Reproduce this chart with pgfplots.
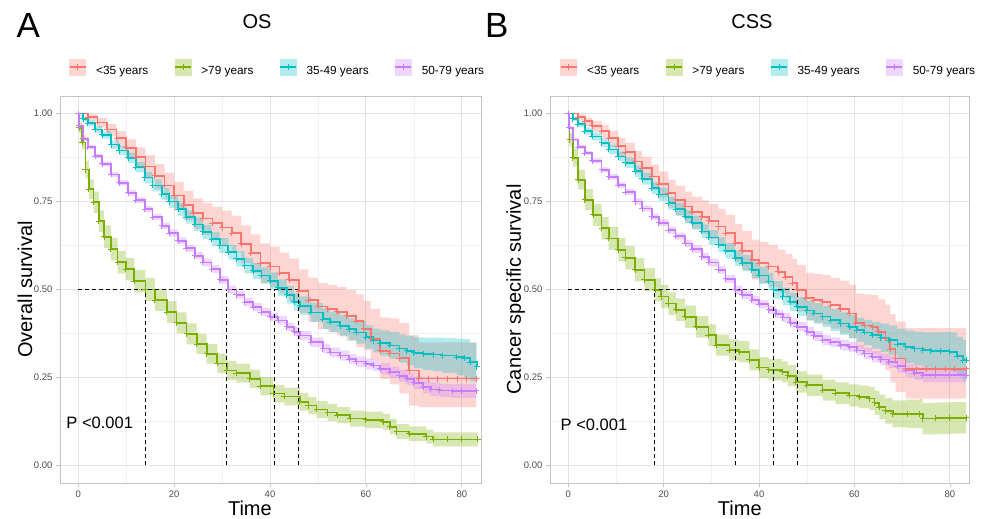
\documentclass[border=0pt]{standalone}
\usepackage{fontspec}
\setmainfont{Liberation Sans}
\usepackage{pgfplots}
\usepackage{pgfplotstable}
\pgfplotsset{compat=1.18}
\usepgfplotslibrary{fillbetween}

\definecolor{cRed}{HTML}{F8766D}
\definecolor{cGreen}{HTML}{7CAE00}
\definecolor{cCyan}{HTML}{00BFC4}
\definecolor{cPurple}{HTML}{C77CFF}
\definecolor{grid1}{HTML}{E3E3E3}
\definecolor{grid2}{HTML}{F0F0F0}
\definecolor{frame}{HTML}{C4C4C4}
\definecolor{tlab}{HTML}{4D4D4D}

% ---------- OS ----------
\pgfplotstableread{
t s u l
0 1.000 0.000 0.000
2 0.990 0.008 0.010
4 0.975 0.012 0.015
6 0.955 0.016 0.020
8 0.930 0.020 0.025
10 0.903 0.024 0.028
12 0.876 0.028 0.031
14 0.850 0.032 0.034
16 0.823 0.034 0.037
18 0.796 0.036 0.039
20 0.767 0.038 0.041
22 0.740 0.040 0.043
24 0.717 0.042 0.045
26 0.702 0.044 0.047
28 0.689 0.046 0.049
30 0.676 0.048 0.051
32 0.660 0.050 0.053
34 0.630 0.052 0.055
36 0.603 0.054 0.056
38 0.575 0.056 0.057
40 0.565 0.057 0.058
42 0.547 0.058 0.059
44 0.528 0.060 0.060
46 0.495 0.062 0.062
48 0.470 0.064 0.063
50 0.452 0.066 0.064
52 0.445 0.068 0.066
54 0.437 0.070 0.068
56 0.425 0.073 0.071
58 0.410 0.076 0.074
59.5 0.388 0.080 0.060
61 0.360 0.085 0.060
63 0.326 0.095 0.080
65 0.318 0.100 0.088
67 0.305 0.100 0.100
69 0.270 0.100 0.100
71 0.247 0.103 0.081
73 0.247 0.103 0.081
75 0.247 0.103 0.081
77 0.247 0.103 0.081
79 0.247 0.103 0.081
81 0.247 0.103 0.081
83 0.247 0.103 0.081
}\osRed

\pgfplotstableread{
t s w
0 1.000 0.000
0.2 0.960 0.015
0.8 0.918 0.020
1.5 0.841 0.025
2.2 0.785 0.028
3.2 0.748 0.030
4.3 0.694 0.031
5.4 0.650 0.032
6.8 0.615 0.032
8.2 0.578 0.032
9.9 0.558 0.032
11.7 0.524 0.032
14 0.500 0.032
16 0.470 0.031
18.5 0.436 0.031
20.5 0.405 0.030
22.6 0.374 0.030
24.7 0.345 0.029
26.8 0.317 0.028
29 0.290 0.028
31 0.270 0.027
33 0.262 0.027
35.8 0.246 0.026
38 0.225 0.026
40.7 0.204 0.025
43 0.196 0.025
46.2 0.181 0.025
48 0.170 0.024
49.7 0.159 0.024
52 0.150 0.024
54 0.143 0.023
56.7 0.133 0.023
60 0.130 0.023
63.6 0.124 0.022
65 0.110 0.022
66.4 0.096 0.021
69 0.090 0.021
72.6 0.082 0.020
74 0.074 0.020
77 0.074 0.020
80 0.074 0.020
83.3 0.075 0.020
}\osGreen

\pgfplotstableread{
t s w
0 1.000 0.000
1 0.985 0.006
2 0.973 0.008
3.5 0.955 0.010
5 0.940 0.011
6.9 0.912 0.012
8.5 0.895 0.013
10.4 0.874 0.014
12 0.848 0.015
13.9 0.818 0.016
15.5 0.796 0.017
17.4 0.771 0.017
19 0.750 0.018
20.8 0.728 0.018
22.5 0.706 0.019
24.3 0.685 0.019
26 0.664 0.020
27.8 0.643 0.020
29.5 0.625 0.021
31.3 0.606 0.021
33 0.587 0.022
34.7 0.568 0.022
36.5 0.553 0.023
38.2 0.540 0.023
40 0.525 0.024
41.7 0.505 0.024
43.5 0.485 0.025
45 0.465 0.025
46.2 0.454 0.026
48.5 0.435 0.027
51 0.416 0.028
52.5 0.407 0.029
54.6 0.397 0.030
56.5 0.387 0.031
58 0.378 0.032
60 0.365 0.033
61.5 0.355 0.034
63 0.348 0.036
65 0.341 0.038
67 0.332 0.040
68.5 0.326 0.042
70 0.320 0.044
71.9 0.317 0.046
74 0.315 0.048
76 0.312 0.050
78.9 0.308 0.052
80.5 0.305 0.054
81.7 0.294 0.055
83.1 0.280 0.055
}\osCyan

\pgfplotstableread{
t s w
0 1.000 0.000
0.2 0.965 0.004
1 0.928 0.005
2 0.905 0.006
3.5 0.879 0.006
5 0.857 0.007
6.9 0.827 0.007
8.5 0.803 0.008
10.4 0.775 0.008
12 0.754 0.008
13.9 0.728 0.009
15.5 0.706 0.009
17.4 0.681 0.009
19 0.660 0.010
20.8 0.638 0.010
22.5 0.617 0.010
24.3 0.596 0.010
26 0.577 0.011
27.8 0.558 0.011
29.5 0.528 0.011
31.3 0.500 0.011
33 0.485 0.011
34.7 0.464 0.012
36.5 0.450 0.012
38.2 0.436 0.012
40 0.422 0.012
41.7 0.412 0.012
43.5 0.394 0.012
45 0.380 0.013
46.2 0.369 0.013
48.5 0.350 0.013
51 0.332 0.013
52.5 0.321 0.014
54.6 0.312 0.014
56.5 0.302 0.014
58 0.295 0.015
60 0.289 0.015
61.5 0.284 0.015
63 0.275 0.016
65 0.265 0.016
67 0.255 0.017
68.5 0.246 0.017
70 0.235 0.018
71.9 0.223 0.018
73.5 0.216 0.019
75.4 0.213 0.019
78 0.212 0.020
80 0.212 0.020
83 0.212 0.020
}\osPurple

% ---------- CSS ----------
\pgfplotstableread{
t s u l
0 1.000 0.000 0.000
2 0.990 0.008 0.010
3.5 0.978 0.011 0.014
5 0.965 0.014 0.017
7 0.950 0.018 0.021
8.5 0.930 0.021 0.024
10.5 0.907 0.024 0.027
12 0.890 0.027 0.030
14 0.864 0.030 0.033
15.5 0.845 0.032 0.035
17.5 0.821 0.034 0.037
19 0.800 0.036 0.039
21 0.774 0.038 0.041
22.5 0.755 0.040 0.043
24.5 0.736 0.042 0.045
26 0.720 0.044 0.047
28 0.707 0.046 0.049
29.5 0.695 0.048 0.051
31.5 0.679 0.050 0.052
33 0.660 0.052 0.053
35 0.632 0.054 0.054
36.5 0.610 0.056 0.055
38.5 0.584 0.058 0.056
40 0.575 0.060 0.057
42 0.565 0.062 0.058
44 0.550 0.064 0.059
45.5 0.535 0.066 0.060
47 0.518 0.068 0.061
48 0.499 0.070 0.062
49.8 0.475 0.072 0.063
51.5 0.470 0.074 0.064
53.3 0.465 0.076 0.065
55 0.455 0.078 0.066
57 0.445 0.080 0.068
58.9 0.432 0.082 0.070
60.3 0.404 0.085 0.072
62 0.398 0.088 0.075
63.7 0.394 0.090 0.080
65 0.380 0.092 0.085
66.5 0.361 0.095 0.090
67.5 0.330 0.100 0.095
68.6 0.304 0.105 0.095
70.7 0.275 0.115 0.085
73 0.275 0.115 0.085
75 0.275 0.115 0.085
77 0.275 0.115 0.085
79 0.275 0.115 0.085
81 0.275 0.115 0.085
83.4 0.275 0.115 0.085
}\cssRed

\pgfplotstableread{
t s w
0 1.000 0.000
0.3 0.926 0.020
1 0.874 0.025
2.1 0.812 0.028
3.5 0.755 0.030
5.2 0.712 0.031
7 0.674 0.032
8.5 0.645 0.032
10.5 0.613 0.033
12 0.590 0.033
14 0.556 0.033
16 0.528 0.033
18.2 0.499 0.033
19.5 0.480 0.033
21 0.460 0.032
22.6 0.442 0.032
24.5 0.422 0.032
26.8 0.394 0.031
29.4 0.370 0.031
31 0.342 0.030
33.8 0.328 0.030
35.8 0.323 0.030
38 0.300 0.030
40 0.278 0.030
42 0.272 0.030
44.9 0.266 0.030
46 0.255 0.030
47.7 0.237 0.030
50 0.228 0.030
53.3 0.214 0.030
56 0.205 0.031
58.9 0.199 0.031
61 0.195 0.032
63.1 0.190 0.033
64.2 0.178 0.034
65.2 0.166 0.035
66.5 0.155 0.036
68 0.147 0.038
71 0.147 0.040
73.6 0.147 0.042
74.3 0.133 0.045
77 0.134 0.045
80 0.135 0.045
83.4 0.136 0.045
}\cssGreen

\pgfplotstableread{
t s w
0 1.000 0.000
1 0.985 0.006
2 0.970 0.008
3.5 0.950 0.010
5 0.935 0.011
7 0.917 0.012
8.5 0.898 0.013
10.5 0.878 0.014
12 0.860 0.015
14 0.836 0.016
15.5 0.815 0.017
17.5 0.788 0.017
19 0.770 0.018
21 0.745 0.018
22.5 0.728 0.019
24.5 0.707 0.019
26 0.690 0.020
28 0.665 0.020
29.5 0.648 0.021
31.5 0.627 0.021
33 0.610 0.022
35 0.589 0.022
36.5 0.575 0.023
38.5 0.556 0.023
40 0.540 0.024
42 0.523 0.024
43 0.499 0.025
45 0.480 0.025
46.5 0.465 0.026
48 0.451 0.027
50 0.440 0.028
51.5 0.432 0.029
53.3 0.423 0.030
55 0.413 0.031
57 0.403 0.032
58.9 0.394 0.033
60.5 0.385 0.034
62 0.378 0.036
63.7 0.370 0.038
65.5 0.363 0.040
67.2 0.356 0.042
69 0.345 0.044
70.7 0.337 0.046
72.5 0.332 0.048
74.3 0.328 0.050
76 0.326 0.052
78 0.325 0.054
79.9 0.323 0.055
81.5 0.310 0.056
82.7 0.299 0.057
83.4 0.299 0.057
}\cssCyan

\pgfplotstableread{
t s w
0 1.000 0.000
0.2 0.960 0.004
1 0.926 0.005
2 0.905 0.006
3.5 0.888 0.006
5 0.866 0.007
7 0.840 0.007
8.5 0.820 0.008
10.5 0.797 0.008
12 0.777 0.008
14 0.750 0.009
15.5 0.730 0.009
17.5 0.707 0.009
19 0.690 0.010
21 0.669 0.010
22.5 0.652 0.010
24.5 0.631 0.010
26 0.615 0.011
28 0.593 0.011
29.5 0.577 0.011
31.5 0.556 0.011
33 0.530 0.011
35 0.499 0.012
36.5 0.485 0.012
38.5 0.470 0.012
40 0.458 0.012
42 0.442 0.012
43.5 0.431 0.012
45 0.420 0.013
46.5 0.405 0.013
48 0.394 0.013
50 0.380 0.013
51.5 0.368 0.014
53.3 0.356 0.014
55 0.350 0.014
57 0.342 0.015
58.9 0.337 0.015
60.5 0.327 0.015
62 0.318 0.016
63.7 0.309 0.016
65.5 0.301 0.017
67.2 0.294 0.017
69 0.282 0.018
70.7 0.270 0.018
72.5 0.262 0.019
74.3 0.256 0.019
77 0.256 0.020
80 0.256 0.020
83.4 0.256 0.020
}\cssPurple

\pgfplotsset{
  kmleg/.style={legend image code/.code={
    \fill[fill=#1!30, draw=none] (0pt,-4.3pt) rectangle (17pt,12.7pt);
    \draw[draw=#1, line width=1.7pt] (0.5pt,4.2pt) -- (16.5pt,4.2pt);
    \draw[draw=#1, line width=0.9pt] (8.5pt,1.2pt) -- (8.5pt,7.2pt);
    \path (24pt,4.2pt);
  }},
  km/.style={const plot, color=#1, line width=1.7pt, mark=+, mark size=3pt,
    mark options={line width=0.9pt}, kmleg=#1},
  edge/.style={const plot, draw=none, forget plot},
  band/.style={fill=#1, fill opacity=0.3, draw=none, forget plot},
  med/.style={black, line width=0.9pt, dash pattern=on 4pt off 3pt, forget plot},
  surv/.style={
    scale only axis, height=387pt,
    xmin=-3.8, xmax=84, ymin=-0.05, ymax=1.05,
    xtick={0,20,40,60,80}, minor xtick={10,30,50,70},
    ytick={0,0.25,0.5,0.75,1}, minor ytick={0.125,0.375,0.625,0.875},
    grid=both,
    major grid style={grid1, line width=0.9pt},
    minor grid style={grid2, line width=0.5pt},
    axis line style={frame, line width=0.9pt},
    tick align=outside, xtick pos=left, ytick pos=left,
    major tick length=4pt, minor tick length=0pt,
    tick style={frame, line width=0.8pt},
    /pgf/number format/assume math mode=true,
    ticklabel style={font=\fontsize{9.5}{11}\selectfont, text=tlab},
    yticklabel style={/pgf/number format/.cd, fixed, fixed zerofill, precision=2},
    label style={font=\fontsize{20}{24}\selectfont},
    legend columns=4,
    legend style={draw=none, fill=none, inner sep=0pt, outer sep=0pt,
      anchor=west, font=\fontsize{11.8}{14}\selectfont,
      /tikz/every even column/.append style={column sep=23.8pt}},
  },
}

\newcommand\bandW[3]{%
  \addplot[edge, name path=#3u] table[x=t, y expr=\thisrow{s}+\thisrow{w}]{#1};
  \addplot[edge, name path=#3l] table[x=t, y expr=\thisrow{s}-\thisrow{w}]{#1};
  \addplot[band=#2] fill between[of=#3u and #3l];
}
\newcommand\bandUL[3]{%
  \addplot[edge, name path=#3u] table[x=t, y expr=\thisrow{s}+\thisrow{u}]{#1};
  \addplot[edge, name path=#3l] table[x=t, y expr=\thisrow{s}-\thisrow{l}]{#1};
  \addplot[band=#2] fill between[of=#3u and #3l];
}

\begin{document}
\begin{tikzpicture}

\begin{axis}[surv, at={(60pt,33pt)}, anchor=south west, width=421pt,
  xlabel={Time}, ylabel={Overall survival},
  xlabel style={at={(axis description cs:0.451,-0.0827)}, anchor=base},
  ylabel style={at={(axis description cs:-0.083,0.5)}, anchor=center},
  legend style={at={(axis description cs:0.0214,1.0711)}},
]
\bandUL{\osRed}{cRed}{ar}
\bandW{\osGreen}{cGreen}{ag}
\bandW{\osCyan}{cCyan}{ac}
\bandW{\osPurple}{cPurple}{ap}
\addplot[km=cRed] table[x=t, y=s]{\osRed};
\addlegendentry{<35 years}
\addplot[km=cGreen] table[x=t, y=s]{\osGreen};
\addlegendentry{>79 years}
\addplot[km=cCyan] table[x=t, y=s]{\osCyan};
\addlegendentry{35-49 years}
\addplot[km=cPurple] table[x=t, y=s]{\osPurple};
\addlegendentry{50-79 years}
\addplot[med] coordinates {(0,0.5) (46,0.5)};
\addplot[med] coordinates {(14,0) (14,0.5)};
\addplot[med] coordinates {(31,0) (31,0.5)};
\addplot[med] coordinates {(41,0) (41,0.5)};
\addplot[med] coordinates {(46,0) (46,0.5)};
\node[anchor=base west, inner sep=0pt, font=\fontsize{16.5}{20}\selectfont]
  at (axis cs:-2.5,0.105) {P <0.001};
\end{axis}

\begin{axis}[surv, at={(550pt,33pt)}, anchor=south west, width=419pt,
  xlabel={Time}, ylabel={Cancer specific survival},
  xlabel style={at={(axis description cs:0.453,-0.0827)}, anchor=base},
  ylabel style={at={(axis description cs:-0.0816,0.5)}, anchor=center},
  legend style={at={(axis description cs:0.0239,1.0711)}},
]
\bandUL{\cssRed}{cRed}{br}
\bandW{\cssGreen}{cGreen}{bg}
\bandW{\cssCyan}{cCyan}{bc}
\bandW{\cssPurple}{cPurple}{bp}
\addplot[km=cRed] table[x=t, y=s]{\cssRed};
\addlegendentry{<35 years}
\addplot[km=cGreen] table[x=t, y=s]{\cssGreen};
\addlegendentry{>79 years}
\addplot[km=cCyan] table[x=t, y=s]{\cssCyan};
\addlegendentry{35-49 years}
\addplot[km=cPurple] table[x=t, y=s]{\cssPurple};
\addlegendentry{50-79 years}
\addplot[med] coordinates {(0,0.5) (48,0.5)};
\addplot[med] coordinates {(18,0) (18,0.5)};
\addplot[med] coordinates {(35,0) (35,0.5)};
\addplot[med] coordinates {(43,0) (43,0.5)};
\addplot[med] coordinates {(48,0) (48,0.5)};
\node[anchor=base west, inner sep=0pt, font=\fontsize{16.5}{20}\selectfont]
  at (axis cs:-1.6,0.10) {P <0.001};
\end{axis}

\node[anchor=base west, inner sep=0pt, font=\fontsize{35}{40}\selectfont] at (16.5pt,478pt) {A};
\node[anchor=base, inner sep=0pt, font=\fontsize{20}{24}\selectfont] at (257pt,487pt) {OS};
\node[anchor=base west, inner sep=0pt, font=\fontsize{35}{40}\selectfont] at (485pt,478pt) {B};
\node[anchor=base, inner sep=0pt, font=\fontsize{20}{24}\selectfont] at (752pt,487pt) {CSS};
\path (0pt,0pt) rectangle (987pt,516pt);
\end{tikzpicture}
\end{document}
